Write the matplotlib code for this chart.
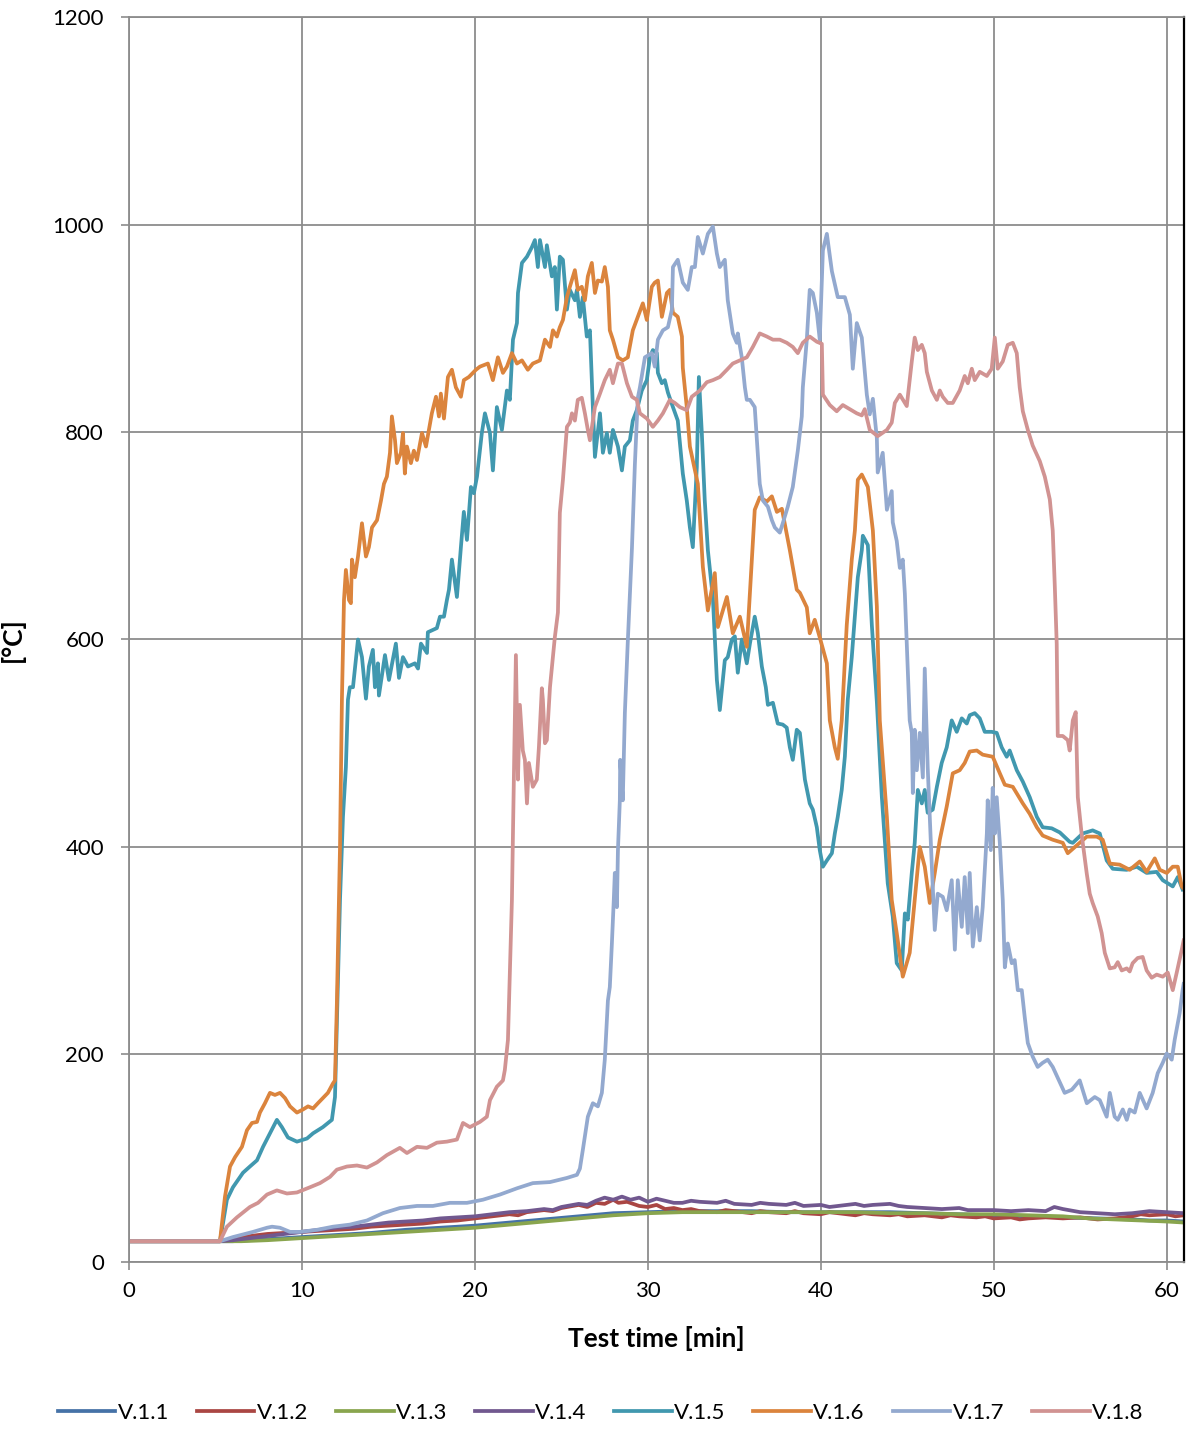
import matplotlib
matplotlib.use('Agg')
import matplotlib.pyplot as plt

# ---- series data: test time [min] and temperature [°C] ----
t_v11 = [0, 5.26, 6, 8, 10, 12, 14, 16, 18, 20, 22, 24, 26, 28, 30, 32, 34, 36, 38, 40, 42, 44,
         46, 48, 50, 52, 54, 56, 58, 59, 60, 61]
v_v11 = [20, 20, 20, 22, 24, 26, 28, 31, 33, 35, 38, 41, 44, 47, 48, 49, 49, 49, 48, 48, 48, 48,
         47, 46, 45, 44, 43, 42, 41, 40, 40, 39]

t_v12 = [0, 5.26, 6, 7, 8, 9, 10, 11, 12, 13, 14, 15, 16, 17, 18, 19, 20, 21, 22, 22.5, 23, 24,
         24.5, 25, 26, 26.5, 27, 27.5, 28, 28.3, 28.8, 29.5, 30, 30.5, 31, 31.5, 32, 32.5, 33,
         34, 34.5, 35, 36, 36.5, 37, 38, 38.5, 39, 40, 40.5, 41, 42, 42.5, 43, 44, 44.5, 45, 46,
         47, 47.5, 48, 49, 49.5, 50, 51, 51.5, 52, 53, 54, 55, 56, 57, 58, 58.5, 59, 60, 60.5, 61]
v_v12 = [20, 20, 22, 25, 27, 28, 29, 30, 31, 32, 34, 35, 36, 37, 39, 40, 42, 44, 46, 45, 48, 50,
         49, 52, 55, 53, 57, 56, 60, 57, 58, 54, 53, 55, 51, 52, 50, 51, 49,
         48, 50, 49, 47, 49, 48, 47, 49, 47, 46, 48, 47, 45, 47, 46, 45, 46, 44, 45,
         43, 45, 44, 43, 44, 42, 43, 41, 42, 43, 42, 43, 41, 42, 44, 46, 45, 46, 44, 45]

t_v13 = [0, 5.26, 6.5, 8, 10, 12, 14, 16, 18, 20, 22, 24, 26, 28, 30, 32, 34, 36, 38, 40, 42,
         44, 46, 48, 50, 52, 54, 55.5, 57, 58.5, 60, 61]
v_v13 = [20, 20, 20, 21, 23, 25, 27, 29, 31, 33, 36, 39, 42, 45, 47, 48, 48, 48, 48, 48, 48,
         47, 47, 46, 46, 45, 44, 42, 41, 40, 39, 38]

t_v14 = [0, 5.26, 6, 7, 8, 9, 10, 11, 12, 13, 14, 15, 16, 17, 18, 19, 20, 21, 22, 23, 24, 24.5,
         25, 26, 26.5, 27, 27.5, 28, 28.5, 29, 29.5, 30, 30.5, 31, 31.5, 32, 32.5, 33, 34, 34.5,
         35, 36, 36.5, 37, 38, 38.5, 39, 40, 40.5, 41, 42, 42.5, 43, 44, 44.5, 45, 46, 47, 48,
         48.5, 49, 50, 51, 52, 53, 53.5, 54, 55, 56, 57, 58, 59, 60, 61]
v_v14 = [20, 20, 21, 23, 25, 27, 29, 31, 33, 34, 36, 38, 39, 40, 42, 43, 44, 46, 48, 49, 51, 50,
         53, 56, 55, 59, 62, 60, 63, 60, 62, 58, 61, 59, 57, 57, 59, 58, 57, 59,
         56, 55, 57, 56, 55, 57, 54, 55, 53, 54, 56, 54, 55, 56, 54, 53, 52, 51, 52,
         50, 50, 50, 49, 50, 49, 53, 51, 48, 47, 46, 47, 49, 48, 47]

t_v15 = [0, 5.26, 5.66, 6.01, 6.59, 6.99, 7.40, 7.75, 8.15, 8.55, 8.84, 9.19, 9.71, 10.29, 10.64,
         11.21, 11.73, 11.91, 12.20, 12.37, 12.54, 12.66, 12.77, 12.95, 13.24, 13.47, 13.70,
         13.87, 14.10, 14.22, 14.39, 14.45, 14.80, 15.03, 15.43, 15.61, 15.84, 16.13, 16.53,
         16.71, 16.88, 17.23, 17.28, 17.80, 17.98, 18.21, 18.38, 18.50, 18.67, 18.96, 19.19,
         19.36, 19.54, 19.77, 19.94, 20.12, 20.40, 20.58, 20.87, 21.04, 21.27, 21.56, 21.85,
         22.02, 22.20, 22.43, 22.49, 22.72, 23.01, 23.29, 23.47, 23.64, 23.76, 24.05, 24.16,
         24.45, 24.62, 24.74, 24.91, 25.09, 25.32, 25.49, 25.78, 25.90, 26.07, 26.24, 26.47,
         26.65, 26.82, 26.94, 27.23, 27.40, 27.63, 27.80, 27.98, 28.27, 28.50, 28.67, 28.96,
         29.13, 29.36, 29.65, 29.94, 30.12, 30.29, 30.52, 30.58, 30.81, 30.98, 31.16, 31.45,
         31.73, 32.02, 32.25, 32.43, 32.60, 32.83, 32.95, 33.12, 33.29, 33.47, 33.76, 33.99,
         34.16, 34.45, 34.62, 34.86, 35.03, 35.20, 35.43, 35.72, 35.90, 36.18, 36.36, 36.59,
         36.82, 36.94, 37.23, 37.51, 37.80, 38.03, 38.21, 38.38, 38.61, 38.79, 39.08, 39.36,
         39.54, 39.77, 39.94, 40.12, 40.35, 40.64, 40.81, 40.98, 41.21, 41.39, 41.56, 41.79,
         41.97, 42.14, 42.37, 42.43, 42.72, 42.95, 43.24, 43.53, 43.87, 44.16, 44.39, 44.68,
         44.86, 45.03, 45.26, 45.43, 45.61, 45.84, 46.01, 46.18, 46.47, 46.71, 46.99, 47.28,
         47.57, 47.86, 48.15, 48.44, 48.61, 48.90, 49.19, 49.48, 49.88, 50.17, 50.46, 50.75,
         50.92, 51.33, 51.68, 52.08, 52.49, 52.83, 53.35, 53.82, 54.39, 54.57, 55.14, 55.72,
         56.13, 56.53, 56.88, 57.69, 58.27, 58.84, 59.42, 59.77, 60.35, 60.64, 60.92]
v_v15 = [20, 20, 60, 72, 86, 92, 98, 111, 124, 137, 130, 120, 116, 119, 124,
         130, 137, 159, 349, 429, 477, 542, 554, 554, 600, 583, 543,
         574, 590, 554, 577, 546, 585, 561, 596, 563, 583, 574, 577,
         572, 596, 587, 607, 611, 622, 622, 638, 648, 677, 641, 689,
         723, 696, 747, 741, 757, 799, 818, 799, 763, 824, 802, 840,
         831, 889, 905, 934, 963, 969, 978, 985, 959, 985, 959, 980,
         950, 959, 918, 969, 966, 918, 937, 927, 937, 911, 930, 892,
         898, 824, 776, 818, 780, 799, 780, 802, 786, 763, 786, 792,
         811, 821, 840, 850, 872, 879, 876, 857, 847, 850, 838, 824,
         811, 760, 734, 708, 689, 766, 853, 799, 734, 686, 640, 561,
         532, 580, 583, 600, 603, 568, 600, 577, 596, 622, 606, 574,
         554, 537, 539, 519, 518, 515, 496, 484, 513, 510, 465, 442,
         436, 419, 397, 381, 387, 394, 413, 429, 455, 487, 542, 583,
         622, 660, 686, 700, 691, 614, 540, 448, 365, 333, 288, 281,
         336, 330, 375, 404, 455, 442, 455, 433, 436, 458, 481, 496,
         522, 511, 524, 519, 527, 529, 524, 511, 511, 510, 496, 487,
         493, 474, 463, 448, 429, 419, 418, 414, 405, 404, 413, 416,
         413, 387, 379, 378, 381, 375, 376, 368, 362, 371, 359]

t_v16 = [0, 5.26, 5.55, 5.84, 6.13, 6.53, 6.82, 7.11, 7.40, 7.57, 7.86, 8.15, 8.44, 8.73, 9.02,
         9.31, 9.71, 10.06, 10.35, 10.64, 10.92, 11.21, 11.50, 11.79, 11.91, 12.02, 12.20,
         12.31, 12.43, 12.54, 12.72, 12.83, 12.89, 13.06, 13.24, 13.47, 13.70, 13.87, 14.05,
         14.34, 14.57, 14.74, 14.91, 15.09, 15.20, 15.38, 15.49, 15.72, 15.84, 15.95, 16.07,
         16.30, 16.47, 16.65, 16.94, 17.17, 17.34, 17.51, 17.75, 17.92, 18.03, 18.21, 18.44,
         18.67, 18.90, 19.19, 19.36, 19.65, 20.06, 20.29, 20.75, 21.04, 21.33, 21.62, 21.85,
         22.14, 22.43, 22.72, 23.06, 23.35, 23.76, 24.05, 24.34, 24.51, 24.74, 24.91, 25.09,
         25.32, 25.49, 25.78, 25.95, 26.18, 26.36, 26.53, 26.76, 26.94, 27.11, 27.34, 27.51,
         27.69, 27.80, 27.98, 28.27, 28.55, 28.84, 29.13, 29.42, 29.71, 29.94, 30.23, 30.40,
         30.58, 30.81, 31.10, 31.27, 31.45, 31.73, 31.97, 32.02, 32.25, 32.43, 32.89, 33.18,
         33.47, 33.87, 34.05, 34.57, 34.91, 35.32, 35.72, 35.90, 36.18, 36.47, 36.88, 37.17,
         37.46, 37.75, 38.21, 38.61, 38.79, 39.19, 39.36, 39.65, 39.94, 40.35, 40.52, 40.81,
         40.98, 41.21, 41.50, 41.79, 41.97, 42.14, 42.37, 42.72, 43.01, 43.24, 43.41, 43.82,
         44.10, 44.39, 44.74, 45.14, 45.32, 45.72, 46.01, 46.30, 46.59, 46.88, 47.28, 47.63,
         48.03, 48.32, 48.61, 49.02, 49.36, 49.94, 50.35, 50.64, 51.10, 51.68, 52.08, 52.49,
         52.83, 53.41, 53.99, 54.28, 54.97, 55.38, 55.95, 56.30, 56.71, 57.28, 57.86, 58.44,
         58.84, 59.31, 59.60, 60.00, 60.35, 60.64, 60.87, 60.98]
v_v16 = [20, 20, 63, 92, 101, 111, 127, 134, 135, 144, 153, 163, 161, 163, 158,
         150, 144, 147, 150, 148, 153, 158, 163, 172, 175, 250, 400,
         542, 638, 667, 638, 635, 677, 660, 680, 712, 680, 689, 708,
         715, 734, 750, 757, 780, 815, 792, 770, 780, 799, 760, 786,
         770, 782, 773, 799, 786, 802, 818, 834, 815, 837, 813, 853,
         860, 843, 834, 850, 853, 860, 863, 866, 850, 872, 857, 863,
         876, 866, 869, 860, 866, 869, 889, 882, 898, 892, 901, 908,
         930, 940, 956, 937, 940, 927, 950, 963, 934, 946, 945, 959,
         940, 898, 889, 872, 869, 872, 898, 911, 924, 908, 940, 944,
         946, 911, 934, 937, 915, 911, 892, 862, 824, 786, 750, 670,
         628, 664, 612, 641, 606, 622, 593, 645, 725, 737, 733, 738,
         723, 726, 686, 648, 645, 631, 606, 619, 602, 577, 522, 496,
         485, 522, 614, 677, 705, 754, 759, 747, 705, 632, 522, 429,
         349, 317, 275, 298, 330, 400, 381, 346, 375, 407, 439, 471,
         474, 481, 492, 493, 489, 487, 471, 460, 458, 442, 432, 419,
         411, 407, 404, 394, 404, 410, 410, 407, 384, 383, 378, 386,
         376, 389, 378, 375, 381, 381, 362, 360]

t_v17 = [0, 5.26, 6.01, 7.17, 7.98, 8.27, 8.73, 9.31, 9.88, 10.87, 11.79, 12.77, 13.76, 14.68,
         15.66, 16.65, 17.57, 18.55, 19.54, 20.46, 21.45, 22.43, 23.35, 24.34, 25.32, 25.90,
         26.07, 26.24, 26.53, 26.82, 27.11, 27.34, 27.51, 27.69, 27.80, 27.92, 28.03, 28.09,
         28.21, 28.27, 28.38, 28.40, 28.55, 28.67, 28.84, 29.08, 29.25, 29.42, 29.54, 29.83,
         30.23, 30.40, 30.58, 30.87, 31.16, 31.39, 31.45, 31.73, 32.02, 32.31, 32.54, 32.72,
         32.89, 33.18, 33.47, 33.76, 33.99, 34.16, 34.45, 34.62, 34.91, 35.14, 35.20, 35.43,
         35.61, 35.72, 35.90, 36.18, 36.47, 36.65, 36.94, 37.17, 37.34, 37.63, 37.80, 38.09,
         38.38, 38.67, 38.90, 38.96, 39.19, 39.36, 39.54, 39.77, 39.94, 40.12, 40.35, 40.64,
         40.98, 41.39, 41.68, 41.85, 42.08, 42.37, 42.66, 42.83, 43.01, 43.24, 43.29, 43.58,
         43.82, 44.10, 44.16, 44.39, 44.57, 44.74, 44.86, 44.97, 45.14, 45.26, 45.32, 45.43,
         45.55, 45.72, 45.90, 46.01, 46.18, 46.42, 46.59, 46.76, 47.05, 47.28, 47.57, 47.75,
         47.92, 48.15, 48.32, 48.50, 48.61, 48.79, 49.02, 49.19, 49.36, 49.60, 49.65, 49.83,
         49.94, 50.06, 50.17, 50.35, 50.52, 50.64, 50.81, 51.04, 51.21, 51.39, 51.62, 51.79,
         51.97, 52.25, 52.54, 52.83, 53.12, 53.41, 53.82, 54.10, 54.51, 54.97, 55.38, 55.84,
         56.13, 56.53, 56.71, 56.99, 57.17, 57.46, 57.69, 57.86, 58.15, 58.44, 58.84, 59.19,
         59.48, 59.77, 60.00, 60.29, 60.46, 60.75, 60.92, 60.98]
v_v17 = [20, 20, 24, 29, 33, 34, 33, 29, 29, 31, 34, 36, 40, 47,
         52, 54, 54, 57, 57, 60, 65, 71, 76, 77, 81, 84,
         90, 108, 140, 153, 150, 163, 195, 252, 265, 307, 349, 375,
         342, 397, 445, 484, 445, 529, 598, 688, 769, 833, 843, 872,
         876, 863, 889, 898, 901, 918, 959, 966, 944, 937, 959, 959,
         988, 972, 991, 998, 972, 959, 966, 927, 895, 886, 895, 872,
         843, 831, 831, 824, 750, 734, 728, 715, 708, 703, 712, 728,
         747, 782, 815, 843, 889, 937, 934, 915, 889, 975, 991, 955,
         930, 930, 913, 861, 905, 891, 836, 817, 832, 794, 761, 780,
         725, 743, 713, 695, 669, 677, 644, 596, 522, 510, 452, 513,
         474, 510, 467, 572, 477, 381, 320, 355, 352, 339, 368, 301,
         368, 323, 371, 317, 375, 304, 342, 310, 342, 413, 445, 397,
         457, 413, 448, 404, 349, 284, 307, 288, 291, 262, 262, 236,
         211, 198, 188, 192, 195, 188, 173, 163, 166, 175, 153, 159,
         156, 140, 163, 140, 137, 147, 137, 147, 144, 163, 148, 163,
         182, 192, 201, 195, 214, 240, 262, 268]

t_v18 = [0, 5.26, 5.66, 6.24, 6.99, 7.46, 7.98, 8.55, 9.13, 9.71, 10.46, 11.04, 11.62, 12.02,
         12.60, 13.18, 13.76, 14.34, 14.91, 15.66, 16.07, 16.65, 17.23, 17.80, 18.38, 18.96,
         19.31, 19.71, 20.29, 20.69, 20.87, 21.27, 21.45, 21.62, 21.73, 21.91, 22.14, 22.20,
         22.37, 22.49, 22.60, 22.77, 22.89, 23.01, 23.12, 23.35, 23.58, 23.70, 23.87, 23.93,
         24.05, 24.16, 24.34, 24.62, 24.80, 24.91, 25.09, 25.32, 25.49, 25.61, 25.78, 25.95,
         26.18, 26.36, 26.53, 26.65, 26.94, 27.23, 27.51, 27.80, 27.98, 28.27, 28.50, 28.79,
         29.08, 29.36, 29.54, 29.94, 30.29, 30.58, 30.87, 31.27, 31.56, 31.85, 32.25, 32.54,
         33.01, 33.41, 33.76, 34.16, 34.57, 34.91, 35.32, 35.72, 36.07, 36.47, 36.88, 37.23,
         37.63, 38.03, 38.38, 38.67, 38.96, 39.36, 39.77, 40.06, 40.12, 40.52, 40.92, 41.27,
         41.68, 42.08, 42.37, 42.54, 42.83, 43.29, 43.82, 44.10, 44.28, 44.57, 44.97, 45.26,
         45.43, 45.61, 45.84, 46.01, 46.13, 46.42, 46.71, 46.88, 47.05, 47.34, 47.63, 48.03,
         48.32, 48.50, 48.73, 48.90, 49.19, 49.60, 49.88, 50.06, 50.23, 50.52, 50.81, 51.10,
         51.33, 51.50, 51.68, 51.97, 52.25, 52.66, 52.95, 53.24, 53.41, 53.53, 53.64, 53.70,
         53.99, 54.28, 54.39, 54.57, 54.74, 54.86, 55.09, 55.38, 55.55, 55.72, 56.01, 56.24,
         56.42, 56.71, 56.99, 57.17, 57.40, 57.69, 57.86, 58.03, 58.32, 58.61, 58.84, 59.13,
         59.42, 59.77, 60.06, 60.35, 60.58, 60.87, 60.98]
v_v18 = [20, 20, 34, 43, 53, 57, 65, 69, 66, 67, 72, 76, 82, 89,
         92, 93, 91, 96, 103, 110, 105, 111, 110, 115, 116, 118,
         134, 130, 135, 140, 156, 169, 172, 175, 185, 214, 349, 413,
         585, 465, 537, 493, 484, 442, 481, 458, 465, 496, 553, 542,
         500, 503, 554, 602, 626, 722, 754, 805, 809, 818, 811, 831,
         833, 818, 802, 792, 824, 837, 850, 860, 847, 866, 866, 847,
         834, 831, 818, 813, 805, 811, 818, 831, 828, 824, 821, 834,
         840, 848, 850, 853, 860, 866, 869, 872, 882, 895, 892, 889,
         889, 886, 882, 876, 886, 892, 887, 885, 836, 826, 820, 826,
         822, 818, 816, 822, 802, 796, 802, 809, 828, 836, 825, 868,
         891, 879, 884, 876, 858, 840, 831, 840, 834, 828, 828, 840,
         854, 847, 861, 850, 858, 854, 861, 891, 861, 868, 884, 886,
         876, 843, 820, 802, 787, 772, 757, 735, 705, 651, 596, 507,
         507, 503, 493, 522, 530, 448, 411, 374, 355, 346, 333, 317,
         298, 283, 284, 289, 281, 283, 280, 288, 293, 294, 281, 274,
         277, 275, 279, 262, 279, 301, 310]

labels = ['V.1.1', 'V.1.2', 'V.1.3', 'V.1.4', 'V.1.5', 'V.1.6', 'V.1.7', 'V.1.8']
colors = ['#4572A7', '#AA4643', '#89A54E', '#71588F', '#4198AF', '#DB843D', '#93A9CF', '#D19392']
series = [(t_v11, v_v11), (t_v12, v_v12), (t_v13, v_v13), (t_v14, v_v14),
          (t_v15, v_v15), (t_v16, v_v16), (t_v17, v_v17), (t_v18, v_v18)]

plt.rcParams['font.family'] = ['Lato', 'DejaVu Sans']

fig = plt.figure(figsize=(11.89, 14.30), dpi=100)
ax = fig.add_axes([0.1085, 0.1175, 0.8873, 0.8706])

for (t, v), lab, col in zip(series, labels, colors):
    ax.plot(t, v, color=col, lw=2.7, label=lab, solid_joinstyle='round')

ax.set_xlim(0, 61)
ax.set_ylim(0, 1200)
ax.set_xticks(range(0, 61, 10))
ax.set_yticks(range(0, 1201, 200))
ax.grid(True, color='#8c8c8c', lw=1.3)
ax.set_axisbelow(True)
ax.tick_params(axis='both', labelsize=16, direction='out', length=6, width=1.2,
               color='#8c8c8c')
ax.tick_params(axis='y', pad=12)
ax.tick_params(axis='x', pad=8)
for side in ['left', 'bottom', 'top']:
    ax.spines[side].set_color('#8c8c8c')
    ax.spines[side].set_linewidth(1.3)
ax.spines['right'].set_color('black')
ax.spines['right'].set_linewidth(1.6)

ax.set_xlabel('Test time [min]', fontsize=19, fontweight='bold', labelpad=18)
ax.set_ylabel('[°C]', fontsize=19, fontweight='bold')
ax.yaxis.set_label_coords(-0.099, 0.5)

fig.legend(loc='center', bbox_to_anchor=(0.505, 0.012), ncol=8, frameon=False,
           fontsize=16, handlelength=2.6, handletextpad=0.1, columnspacing=1.25)

fig.savefig('out.png', dpi=100)
